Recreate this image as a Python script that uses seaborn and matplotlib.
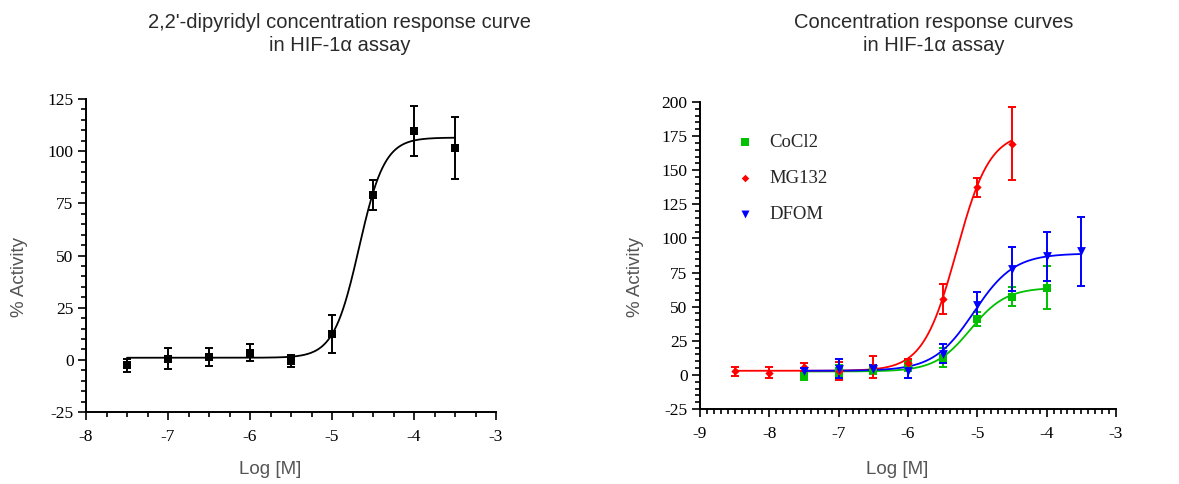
import numpy as np
import pandas as pd
import matplotlib
matplotlib.use("Agg")
import matplotlib.pyplot as plt
import seaborn as sns
from matplotlib.ticker import MultipleLocator

# --- left panel: 2,2'-dipyridyl ---
dip_logc = [-7.5, -7.0, -6.5, -6.0, -5.5, -5.0, -4.5, -4.0, -3.5]
dip_act = [-2.7, 0.5, 1.3, 3.5, -0.5, 12.5, 79.0, 109.5, 101.5]
dip_err = [3.0, 5.0, 4.3, 4.0, 3.0, 9.0, 7.2, 12.0, 15.0]
# fitted 4PL: bottom, top, logEC50, hill
dip_fit = [1.0, 106.5, -4.67, 2.8]

# --- right panel ---
cocl2_logc = [-7.5, -7.0, -6.5, -6.0, -5.5, -5.0, -4.5, -4.0]
cocl2_act = [-1.0, 3.0, 3.5, 7.0, 12.7, 41.0, 57.3, 64.0]
cocl2_err = [3.0, 4.0, 3.0, 4.0, 7.0, 5.0, 7.0, 16.0]
cocl2_fit = [2.5, 64.0, -5.1, 1.7]

mg132_logc = [-8.5, -8.0, -7.5, -7.0, -6.5, -6.0, -5.5, -5.0, -4.5]
mg132_act = [2.6, 1.7, 5.6, 3.0, 5.7, 8.5, 55.4, 137.5, 169.5]
mg132_err = [3.4, 4.0, 3.2, 6.5, 8.0, 3.0, 11.0, 7.0, 27.0]
mg132_fit = [3.0, 178.0, -5.3, 1.8]

dfom_logc = [-7.5, -7.0, -6.5, -6.0, -5.5, -5.0, -4.5, -4.0, -3.5]
dfom_act = [3.2, 4.6, 4.4, 2.9, 15.4, 51.0, 77.6, 87.0, 90.5]
dfom_err = [2.0, 7.0, 3.0, 5.0, 7.0, 10.0, 16.0, 18.0, 25.0]
dfom_fit = [3.0, 89.0, -5.05, 1.5]


def four_pl(x, p):
    bottom, top, ec50, hill = p
    return bottom + (top - bottom) / (1 + 10 ** ((ec50 - x) * hill))


sns.set_theme(style="ticks")
plt.rcParams["font.family"] = ["Liberation Serif", "DejaVu Serif"]
sans = ["Liberation Sans", "DejaVu Sans"]

fig = plt.figure(figsize=(11.79, 4.84), dpi=100)
ax1 = fig.add_axes([86 / 1179, 1 - 412 / 484, 410 / 1179, 313 / 484])
ax2 = fig.add_axes([700 / 1179, 1 - 409 / 484, 416 / 1179, 307 / 484])


def draw(ax, logc, act, err, fit, color, marker, ms, label=None):
    xs = np.linspace(min(logc), max(logc), 300)
    curve = pd.DataFrame({"x": xs, "y": four_pl(xs, fit)})
    sns.lineplot(data=curve, x="x", y="y", ax=ax, color=color, lw=1.3)
    ax.errorbar(logc, act, yerr=err, fmt="none", ecolor=color,
                elinewidth=1.4, capsize=3.2, capthick=1.4)
    pts = pd.DataFrame({"x": logc, "y": act})
    sns.scatterplot(data=pts, x="x", y="y", ax=ax, color=color, marker=marker,
                    s=ms, edgecolor=color, linewidth=0, zorder=5, label=label)


draw(ax1, dip_logc, dip_act, dip_err, dip_fit, "black", "s", 38)
draw(ax2, cocl2_logc, cocl2_act, cocl2_err, cocl2_fit, "#00c000", "s", 34, "CoCl2")
draw(ax2, mg132_logc, mg132_act, mg132_err, mg132_fit, "#ff0000", "D", 18, "MG132")
draw(ax2, dfom_logc, dfom_act, dfom_err, dfom_fit, "#0000ff", "v", 40, "DFOM")


def style(ax, xlim, ylim, xminor):
    ax.set_xlim(*xlim)
    ax.set_ylim(*ylim)
    ax.xaxis.set_major_locator(MultipleLocator(1))
    ax.xaxis.set_minor_locator(MultipleLocator(xminor))
    ax.yaxis.set_major_locator(MultipleLocator(25))
    ax.yaxis.set_minor_locator(MultipleLocator(5))
    for s in ["top", "right"]:
        ax.spines[s].set_visible(False)
    for s in ["left", "bottom"]:
        ax.spines[s].set_linewidth(1.4)
        ax.spines[s].set_color("black")
    ax.tick_params(which="major", length=6, width=1.2, labelsize=12.5,
                   colors="black", pad=3)
    ax.tick_params(axis="x", which="major", pad=6)
    ax.tick_params(which="minor", length=3.5, width=1.2, colors="black")
    ax.set_xlabel("")
    ax.set_ylabel("")
    ax.xaxis.set_major_formatter(lambda v, pos: f"{int(round(v))}")
    ax.yaxis.set_major_formatter(lambda v, pos: f"{int(round(v))}")


style(ax1, (-8, -3), (-25, 125), 0.25)
style(ax2, (-9, -3), (-25, 200), 0.1)

leg = ax2.legend(loc="upper left", bbox_to_anchor=(0.05, 0.95), frameon=False,
                 fontsize=13.5, handletextpad=0.9, labelspacing=1.0,
                 markerscale=0.9, handlelength=0.8)

title_kw = dict(ha="center", va="center", family=sans, fontsize=14.5,
                color="#2a2a2a", linespacing=1.25)
fig.text(340 / 1179, 1 - 34 / 484,
         "2,2'-dipyridyl concentration response curve\nin HIF-1\u03b1 assay",
         **title_kw)
fig.text(934 / 1179, 1 - 34 / 484,
         "Concentration response curves\nin HIF-1\u03b1 assay", **title_kw)

lab_kw = dict(family=sans, fontsize=13.5, color="#555555")
fig.text(20 / 1179, 1 - 277 / 484, "% Activity", rotation=90,
         ha="center", va="center", **lab_kw)
fig.text(636 / 1179, 1 - 277 / 484, "% Activity", rotation=90,
         ha="center", va="center", **lab_kw)
fig.text(270 / 1179, 1 - 470 / 484, "Log [M]", ha="center", va="center", **lab_kw)
fig.text(897 / 1179, 1 - 470 / 484, "Log [M]", ha="center", va="center", **lab_kw)

fig.savefig("out.png", dpi=100)
